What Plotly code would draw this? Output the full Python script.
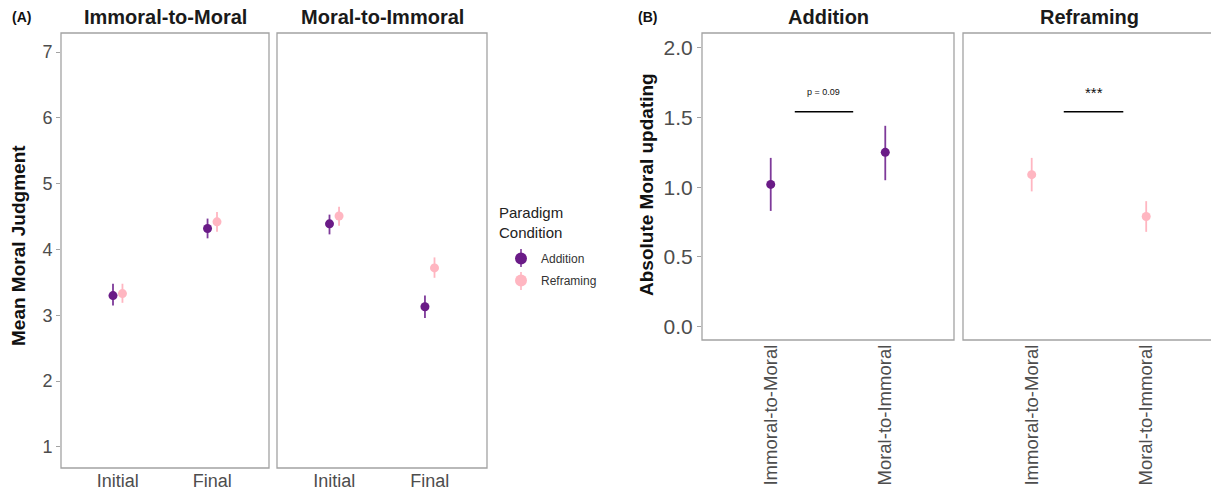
import plotly.graph_objects as go

# ---------------- data ----------------
times = ["Initial", "Final"]
conditions = ["Addition", "Reframing"]
facets_a = ["Immoral-to-Moral", "Moral-to-Immoral"]

# Panel A: Immoral-to-Moral facet
itm_addition_mean = [3.30, 4.32]
itm_addition_lo = [3.15, 4.17]
itm_addition_hi = [3.48, 4.47]
itm_reframing_mean = [3.33, 4.42]
itm_reframing_lo = [3.19, 4.27]
itm_reframing_hi = [3.48, 4.57]
# Panel A: Moral-to-Immoral facet
mti_addition_mean = [4.39, 3.13]
mti_addition_lo = [4.23, 2.96]
mti_addition_hi = [4.53, 3.30]
mti_reframing_mean = [4.51, 3.72]
mti_reframing_lo = [4.36, 3.57]
mti_reframing_hi = [4.65, 3.88]

# Panel B
facets_b = ["Addition", "Reframing"]
directions = ["Immoral-to-Moral", "Moral-to-Immoral"]
upd_addition_mean = [1.02, 1.25]
upd_addition_lo = [0.83, 1.05]
upd_addition_hi = [1.21, 1.44]
upd_reframing_mean = [1.09, 0.79]
upd_reframing_lo = [0.97, 0.68]
upd_reframing_hi = [1.21, 0.90]
sig_labels = ["p = 0.09", "***"]
sig_y = 1.54
sig_x = [[1.21, 1.72], [1.28, 1.80]]

y_ticks_a = [1, 2, 3, 4, 5, 6, 7]
y_ticks_b = [0.0, 0.5, 1.0, 1.5, 2.0]

# ---------------- style ----------------
COL = {"Addition": "#6A1B87", "Reframing": "#FFB6C1"}
ERRCOL = {"Addition": "#7E3A9A", "Reframing": "#FFB6C1"}
FONT = "Liberation Sans, Arial, sans-serif"
TICKCOL = "#4D4D4D"
BORDER = "#A3A3A3"
W, H = 1211, 492
DODGE = 0.05

fig = go.Figure()


def add_pr(xa, ya, xs, mean, lo, hi, cond, showleg):
    fig.add_trace(go.Scatter(
        x=xs, y=mean, mode="markers", xaxis=xa, yaxis=ya,
        name=cond, legendgroup=cond, showlegend=showleg,
        marker=dict(color=COL[cond], size=9),
        error_y=dict(type="data", symmetric=False,
                     array=[h - m for h, m in zip(hi, mean)],
                     arrayminus=[m - l for m, l in zip(mean, lo)],
                     color=ERRCOL[cond], thickness=1.8, width=0),
    ))


pos = [i + 1 for i in range(len(times))]
# Panel A
add_pr("x", "y", [p - DODGE for p in pos], itm_addition_mean, itm_addition_lo, itm_addition_hi, "Addition", True)
add_pr("x", "y", [p + DODGE for p in pos], itm_reframing_mean, itm_reframing_lo, itm_reframing_hi, "Reframing", True)
add_pr("x2", "y2", [p - DODGE for p in pos], mti_addition_mean, mti_addition_lo, mti_addition_hi, "Addition", False)
add_pr("x2", "y2", [p + DODGE for p in pos], mti_reframing_mean, mti_reframing_lo, mti_reframing_hi, "Reframing", False)
# Panel B
posb = [i + 1 for i in range(len(directions))]
add_pr("x3", "y3", posb, upd_addition_mean, upd_addition_lo, upd_addition_hi, "Addition", False)
add_pr("x4", "y4", posb, upd_reframing_mean, upd_reframing_lo, upd_reframing_hi, "Reframing", False)


def dx(a, b):
    return [a / W, min(b / W, 1.0)]


def dy(top, bottom):
    return [(H - bottom) / H, (H - top) / H]


xcommon = dict(showgrid=False, zeroline=False, showline=False, ticks="")
ycommon = dict(showgrid=False, zeroline=False, showline=False,
               ticklen=4, tickcolor=BORDER, tickwidth=1)

layout = dict(
    width=W, height=H, autosize=False,
    margin=dict(l=0, r=0, t=0, b=0),
    paper_bgcolor="white", plot_bgcolor="white",
    font=dict(family=FONT),
    xaxis=dict(domain=dx(61, 269), range=[0.4, 2.6], tickvals=pos, ticktext=times, anchor="y",
               tickfont=dict(family=FONT, size=18, color=TICKCOL), **xcommon),
    xaxis2=dict(domain=dx(277, 487), range=[0.4, 2.6], tickvals=pos, ticktext=times, anchor="y2",
                tickfont=dict(family=FONT, size=18, color=TICKCOL), **xcommon),
    yaxis=dict(domain=dy(33, 468), range=[0.68, 7.29], tickvals=y_ticks_a, anchor="x", ticks="outside",
               tickfont=dict(family=FONT, size=18, color=TICKCOL), **ycommon),
    yaxis2=dict(domain=dy(33, 468), range=[0.68, 7.29], tickvals=y_ticks_a, anchor="x2",
                showticklabels=False, ticks="", **ycommon),
    xaxis3=dict(domain=dx(702, 954), range=[0.4, 2.6], tickvals=posb, ticktext=directions, tickangle=-90,
                anchor="y3", tickfont=dict(family=FONT, size=18.5, color=TICKCOL), **xcommon),
    xaxis4=dict(domain=dx(963, 1215), range=[0.4, 0.4 + 248 / 114.5], tickvals=posb, ticktext=directions,
                tickangle=-90, anchor="y4", tickfont=dict(family=FONT, size=18.5, color=TICKCOL), **xcommon),
    yaxis3=dict(domain=dy(33, 340), range=[-0.095, 2.105], tickvals=y_ticks_b,
                ticktext=[f"{v:.1f}" for v in y_ticks_b], anchor="x3", ticks="outside",
                tickfont=dict(family=FONT, size=21, color=TICKCOL), **ycommon),
    yaxis4=dict(domain=dy(33, 340), range=[-0.095, 2.105], tickvals=y_ticks_b, anchor="x4",
                showticklabels=False, ticks="", **ycommon),
    legend=dict(x=501 / W, y=1 - 244 / H, xanchor="left", yanchor="top",
                font=dict(family=FONT, size=12, color="#333"), bgcolor="rgba(0,0,0,0)",
                itemsizing="constant", tracegroupgap=3),
)
fig.update_layout(**layout)

# legend title
fig.add_annotation(xref="paper", yref="paper", x=497 / W, y=1 - 202 / H, text="Paradigm<br>Condition",
                   showarrow=False, xanchor="left", yanchor="top", align="left",
                   font=dict(family=FONT, size=15, color="#222"))
# legend glyph whiskers (pointrange key)
for cond, cy in zip(conditions, [258, 281]):
    fig.add_shape(type="line", xref="paper", yref="paper", x0=521 / W, x1=521 / W,
                  y0=1 - (cy - 9) / H, y1=1 - (cy + 9) / H, line=dict(color=ERRCOL[cond], width=1.6))

# panel borders
for xa, ya, x1 in [("x", "y", 1), ("x2", "y2", 1), ("x3", "y3", 1), ("x4", "y4", 252 / 248)]:
    fig.add_shape(type="rect", xref=f"{xa} domain", yref=f"{ya} domain",
                  x0=0, x1=x1, y0=0, y1=1, line=dict(color=BORDER, width=1.3), fillcolor="rgba(0,0,0,0)")

# significance brackets
for (xa, ya), lab, (x0, x1) in zip([("x3", "y3"), ("x4", "y4")], sig_labels, sig_x):
    fig.add_shape(type="line", xref=xa, yref=ya, x0=x0, x1=x1, y0=sig_y, y1=sig_y,
                  line=dict(color="black", width=1.5))
    fig.add_annotation(xref=xa, yref=ya, x=(x0 + x1) / 2, y=sig_y + 0.14, text=lab, showarrow=False,
                       font=dict(family=FONT, size=9 if lab.startswith("p") else 15, color="#111"),
                       yanchor="middle")

# facet titles
for txt, cx in zip(facets_a + facets_b, [165, 382, 828, 1089]):
    fig.add_annotation(xref="paper", yref="paper", x=cx / W, y=1 - 17 / H, text=f"<b>{txt}</b>",
                       showarrow=False, xanchor="center", yanchor="middle",
                       font=dict(family=FONT, size=20, color="#1a1a1a"))

# panel labels
for txt, px in [("(A)", 10), ("(B)", 636)]:
    fig.add_annotation(xref="paper", yref="paper", x=px / W, y=1 - 17 / H, text=f"<b>{txt}</b>",
                       showarrow=False, xanchor="left", yanchor="middle",
                       font=dict(family=FONT, size=14, color="#111"))

# y-axis titles
fig.add_annotation(xref="paper", yref="paper", x=18 / W, y=1 - 246 / H, text="<b>Mean Moral Judgment</b>",
                   textangle=-90, showarrow=False, xanchor="center", yanchor="middle",
                   font=dict(family=FONT, size=19, color="#111"))
fig.add_annotation(xref="paper", yref="paper", x=647 / W, y=1 - 185 / H, text="<b>Absolute Moral updating</b>",
                   textangle=-90, showarrow=False, xanchor="center", yanchor="middle",
                   font=dict(family=FONT, size=19, color="#111"))

fig.write_html("out.html")
